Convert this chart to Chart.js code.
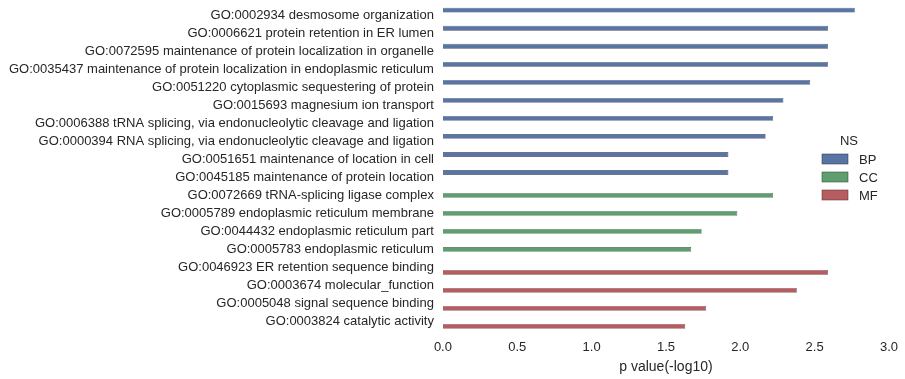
<!DOCTYPE html>
<html>
<head>
<meta charset="utf-8">
<script src="https://cdn.jsdelivr.net/npm/chart.js@4"></script>
<style>
  html, body { margin: 0; padding: 0; background: #fff; }
  #wrap { width: 905px; height: 379px; }
</style>
</head>
<body>
<div id="wrap"><canvas id="goChart" width="905" height="379"></canvas></div>
<script>
const terms = [
    'GO:0002934 desmosome organization',
    'GO:0006621 protein retention in ER lumen',
    'GO:0072595 maintenance of protein localization in organelle',
    'GO:0035437 maintenance of protein localization in endoplasmic reticulum',
    'GO:0051220 cytoplasmic sequestering of protein',
    'GO:0015693 magnesium ion transport',
    'GO:0006388 tRNA splicing, via endonucleolytic cleavage and ligation',
    'GO:0000394 RNA splicing, via endonucleolytic cleavage and ligation',
    'GO:0051651 maintenance of location in cell',
    'GO:0045185 maintenance of protein location',
    'GO:0072669 tRNA-splicing ligase complex',
    'GO:0005789 endoplasmic reticulum membrane',
    'GO:0044432 endoplasmic reticulum part',
    'GO:0005783 endoplasmic reticulum',
    'GO:0046923 ER retention sequence binding',
    'GO:0003674 molecular_function',
    'GO:0005048 signal sequence binding',
    'GO:0003824 catalytic activity'
];
const namespaces = ['BP', 'CC', 'MF'];
const termNs = ['BP','BP','BP','BP','BP','BP','BP','BP','BP','BP','CC','CC','CC','CC','MF','MF','MF','MF'];
const pValues = [2.77, 2.59, 2.59, 2.59, 2.47, 2.29, 2.22, 2.17, 1.92, 1.92,
                 2.22, 1.98, 1.74, 1.67,
                 2.59, 2.38, 1.77, 1.63];
const xTicks = [0, 0.5, 1.0, 1.5, 2.0, 2.5, 3.0];

// seaborn "deep" palette, desaturated like barplot does
const nsColors = {
    BP: 'rgb(88, 117, 163)',
    CC: 'rgb(95, 158, 110)',
    MF: 'rgb(181, 93, 96)'
};
const nsBorders = {
    BP: 'rgba(45, 55, 80, 0.9)',
    CC: 'rgba(45, 75, 52, 0.9)',
    MF: 'rgba(90, 45, 47, 0.9)'
};

const datasets = namespaces.map(ns => ({
    label: ns,
    data: pValues.map((v, i) => termNs[i] === ns ? v : null),
    backgroundColor: nsColors[ns],
    borderColor: nsBorders[ns],
    borderWidth: 0.6,
    categoryPercentage: 0.8,
    barPercentage: 1.0
}));

// legend drawn inside the plot area, like seaborn does
const nsLegend = {
    id: 'nsLegend',
    afterDraw(chart) {
        const c = chart.ctx;
        c.save();
        c.font = '13px "Liberation Sans", Arial, sans-serif';
        c.fillStyle = '#262626';
        c.textBaseline = 'middle';
        c.textAlign = 'center';
        c.fillText('NS', 849, 141);
        c.textAlign = 'left';
        chart.data.datasets.forEach((ds, i) => {
            const y = 159 + i * 18;
            c.fillStyle = ds.backgroundColor;
            c.fillRect(822, y - 5, 26, 10);
            c.strokeStyle = ds.borderColor;
            c.lineWidth = 0.6;
            c.strokeRect(822, y - 5, 26, 10);
            c.fillStyle = '#262626';
            c.fillText(ds.label, 859, y + 1);
        });
        c.restore();
    }
};

Chart.defaults.font.family = '"Liberation Sans", Arial, sans-serif';
Chart.defaults.font.size = 13;
Chart.defaults.color = '#262626';

const ctx = document.getElementById('goChart').getContext('2d');
const goChart = new Chart(ctx, {
    type: 'bar',
    data: {
        labels: terms,
        datasets: datasets
    },
    options: {
        indexAxis: 'y',
        responsive: false,
        animation: false,
        layout: {
            padding: { top: 6, right: 16, bottom: 3, left: 0 }
        },
        scales: {
            x: {
                min: 0,
                max: 3,
                grid: { display: false, drawTicks: false },
                border: { display: false },
                afterBuildTicks: axis => {
                    axis.ticks = xTicks.map(v => ({ value: v }));
                },
                afterFit: s => {
                    s.paddingLeft = 0;
                    s.paddingRight = 0;
                },
                ticks: {
                    padding: 9,
                    callback: v => v.toFixed(1)
                },
                title: {
                    display: true,
                    text: 'p value(-log10)',
                    font: { size: 14 },
                    padding: { top: -5, bottom: 0 }
                }
            },
            y: {
                grid: { display: false, drawTicks: false },
                border: { display: false },
                ticks: { padding: 9, autoSkip: false },
                afterFit: s => {
                    s.paddingTop = 0;
                    s.paddingBottom = 0;
                }
            }
        },
        plugins: {
            legend: { display: false },
            tooltip: { enabled: false }
        }
    },
    plugins: [nsLegend]
});
</script>
</body>
</html>
